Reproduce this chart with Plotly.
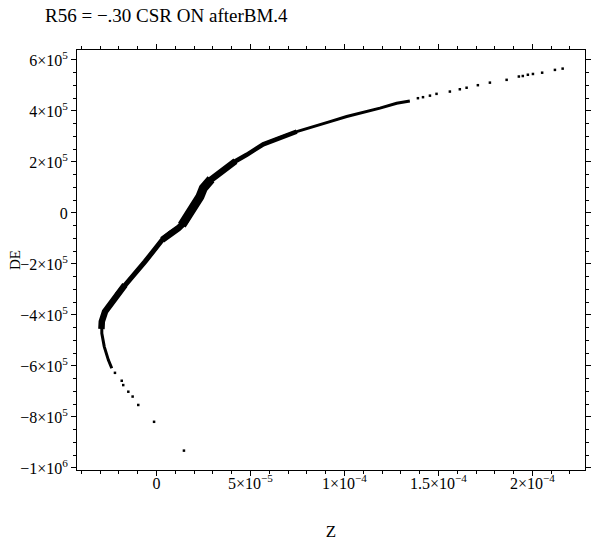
import plotly.graph_objects as go

# Full dense band (centre line)
z_band = [1.348e-4, 1.278e-4, 1.189e-4, 1.100e-4, 1.012e-4, 9.23e-5, 8.34e-5, 7.46e-5,
          6.57e-5, 5.68e-5, 4.80e-5, 4.20e-5, 3.72e-5, 3.20e-5, 2.76e-5, 2.49e-5,
          2.31e-5, 2.05e-5, 1.78e-5, 1.52e-5, 1.16e-5, 7.2e-6, 3.0e-6, -8e-7,
          -6.1e-6, -1.14e-5, -1.68e-5, -2.12e-5, -2.47e-5, -2.74e-5, -2.91e-5,
          -2.91e-5, -2.78e-5, -2.56e-5, -2.38e-5]
de_band = [4.39e5, 4.30e5, 4.11e5, 3.95e5, 3.78e5, 3.58e5, 3.38e5, 3.19e5,
           2.95e5, 2.69e5, 2.28e5, 2.03e5, 1.77e5, 1.49e5, 1.23e5, 9.7e4,
           6.4e4, 3.1e4, -1e3, -3.4e4, -6.0e4, -8.0e4, -1.06e5, -1.45e5,
           -1.91e5, -2.37e5, -2.82e5, -3.22e5, -3.54e5, -3.87e5, -4.26e5,
           -4.72e5, -5.24e5, -5.77e5, -6.09e5]

# Medium-width parts of the band
z_mid = [7.46e-5, 6.57e-5, 5.68e-5, 4.80e-5, 4.20e-5, 3.72e-5, 3.20e-5, 2.76e-5]
de_mid = [3.19e5, 2.95e5, 2.69e5, 2.28e5, 2.03e5, 1.77e5, 1.49e5, 1.23e5]
z_low = [1.16e-5, 7.2e-6, 3.0e-6, -8e-7, -6.1e-6, -1.14e-5, -1.68e-5, -2.12e-5]
de_low = [-6.0e4, -8.0e4, -1.06e5, -1.45e5, -1.91e5, -2.37e5, -2.82e5, -3.22e5]

# Wider shoulder around the kink
z_shoulder = [4.20e-5, 3.72e-5, 3.20e-5, 2.76e-5, 2.49e-5, 2.31e-5, 2.05e-5, 1.78e-5,
              1.52e-5, 1.16e-5, 7.2e-6, 3.0e-6]
de_shoulder = [2.03e5, 1.77e5, 1.49e5, 1.23e5, 9.7e4, 6.4e4, 3.1e4, -1e3,
               -3.4e4, -6.0e4, -8.0e4, -1.06e5]

# Thick core of the kink
z_kink = [2.90e-5, 2.76e-5, 2.49e-5, 2.31e-5, 2.05e-5, 1.78e-5, 1.52e-5, 1.35e-5]
de_kink = [1.32e5, 1.23e5, 9.7e4, 6.4e4, 3.1e4, -1e3, -3.4e4, -4.8e4]

# Thick part near the turning point
z_hook = [-1.68e-5, -2.12e-5, -2.47e-5, -2.74e-5, -2.91e-5, -2.93e-5]
de_hook = [-2.82e5, -3.22e5, -3.54e5, -3.87e5, -4.26e5, -4.55e5]

# Sparse particles at the upper-right tail
z_tail_hi = [2.161e-4, 2.120e-4, 2.052e-4, 2.003e-4, 1.976e-4, 1.949e-4, 1.928e-4,
             1.863e-4, 1.774e-4, 1.710e-4, 1.650e-4, 1.614e-4, 1.561e-4, 1.490e-4,
             1.455e-4, 1.418e-4, 1.391e-4]
de_tail_hi = [5.66e5, 5.61e5, 5.50e5, 5.45e5, 5.42e5, 5.37e5, 5.35e5,
              5.22e5, 5.11e5, 5.01e5, 4.91e5, 4.85e5, 4.76e5, 4.67e5,
              4.60e5, 4.54e5, 4.50e5]

# Sparse particles at the lower tail
z_tail_lo = [-2.21e-5, -1.85e-5, -1.77e-5, -1.50e-5, -1.27e-5, -9.7e-6, -1.3e-6, 1.46e-5]
de_tail_lo = [-6.27e5, -6.58e5, -6.75e5, -7.01e5, -7.20e5, -7.53e5, -8.19e5, -9.32e5]

x_tickvals = [0, 5e-5, 1e-4, 1.5e-4, 2e-4]
x_ticktext = ["0", "5×10<sup>−5</sup>", "1×10<sup>−4</sup>", "1.5×10<sup>−4</sup>", "2×10<sup>−4</sup>"]
y_tickvals = [-1e6, -8e5, -6e5, -4e5, -2e5, 0, 2e5, 4e5, 6e5]
y_ticktext = ["−1×10<sup>6</sup>", "−8×10<sup>5</sup>", "−6×10<sup>5</sup>", "−4×10<sup>5</sup>",
              "−2×10<sup>5</sup>", "0", "2×10<sup>5</sup>", "4×10<sup>5</sup>", "6×10<sup>5</sup>"]

fig = go.Figure()
fig.add_trace(go.Scatter(x=z_band, y=de_band, mode="lines",
                         line=dict(color="black", width=3), showlegend=False))
fig.add_trace(go.Scatter(x=z_mid, y=de_mid, mode="lines",
                         line=dict(color="black", width=4.5), showlegend=False))
fig.add_trace(go.Scatter(x=z_low, y=de_low, mode="lines",
                         line=dict(color="black", width=5), showlegend=False))
fig.add_trace(go.Scatter(x=z_shoulder, y=de_shoulder, mode="lines",
                         line=dict(color="black", width=6.5), showlegend=False))
fig.add_trace(go.Scatter(x=z_kink, y=de_kink, mode="lines",
                         line=dict(color="black", width=9), showlegend=False))
fig.add_trace(go.Scatter(x=z_hook, y=de_hook, mode="lines",
                         line=dict(color="black", width=6.5), showlegend=False))
fig.add_trace(go.Scatter(x=z_tail_hi, y=de_tail_hi, mode="markers",
                         marker=dict(color="black", size=2.5, symbol="square"), showlegend=False))
fig.add_trace(go.Scatter(x=z_tail_lo, y=de_tail_lo, mode="markers",
                         marker=dict(color="black", size=2.5, symbol="square"), showlegend=False))

font = dict(family="Liberation Serif, Times New Roman, serif", color="black")
PLOT_W, PLOT_H, L, T = 508, 420, 77, 50
fig.update_layout(
    width=592, height=541,
    margin=dict(l=L, r=7, t=T, b=71, autoexpand=False),
    paper_bgcolor="white", plot_bgcolor="white",
    font=dict(size=16, **font),
    xaxis=dict(range=[-4.23e-5, 2.28e-4], showgrid=False, zeroline=False, automargin=False,
               showline=True, linecolor="black", linewidth=1, mirror="ticks",
               ticks="outside", ticklen=5, tickcolor="black", ticklabelstandoff=-6,
               tickvals=x_tickvals, ticktext=x_ticktext,
               minor=dict(dtick=1e-5, tick0=0, ticks="outside", ticklen=3, tickcolor="black"),
               title=dict(text="Z", standoff=36, font=dict(size=17, **font))),
    yaxis=dict(range=[-1.008e6, 6.39e5], showgrid=False, zeroline=False, automargin=False,
               showline=True, linecolor="black", linewidth=1, mirror="ticks",
               ticks="outside", ticklen=5, tickcolor="black",
               tickvals=y_tickvals, ticktext=y_ticktext,
               minor=dict(dtick=5e4, tick0=0, ticks="outside", ticklen=3, tickcolor="black")),
    annotations=[
        dict(text="R56 = −.30 CSR ON afterBM.4", xref="paper", yref="paper",
             x=(43 - L) / PLOT_W, y=1 + (T - 15) / PLOT_H, xanchor="left", yanchor="middle",
             showarrow=False, font=dict(size=19, **font)),
        dict(text="DE", xref="paper", yref="paper", textangle=-90,
             x=(15 - L) / PLOT_W, y=1 - (260 - T) / PLOT_H, xanchor="center", yanchor="middle",
             showarrow=False, font=dict(size=15, **font)),
    ],
)
fig.write_html("out.html", config={"displayModeBar": False},
               post_script="document.body.style.margin='0';")
